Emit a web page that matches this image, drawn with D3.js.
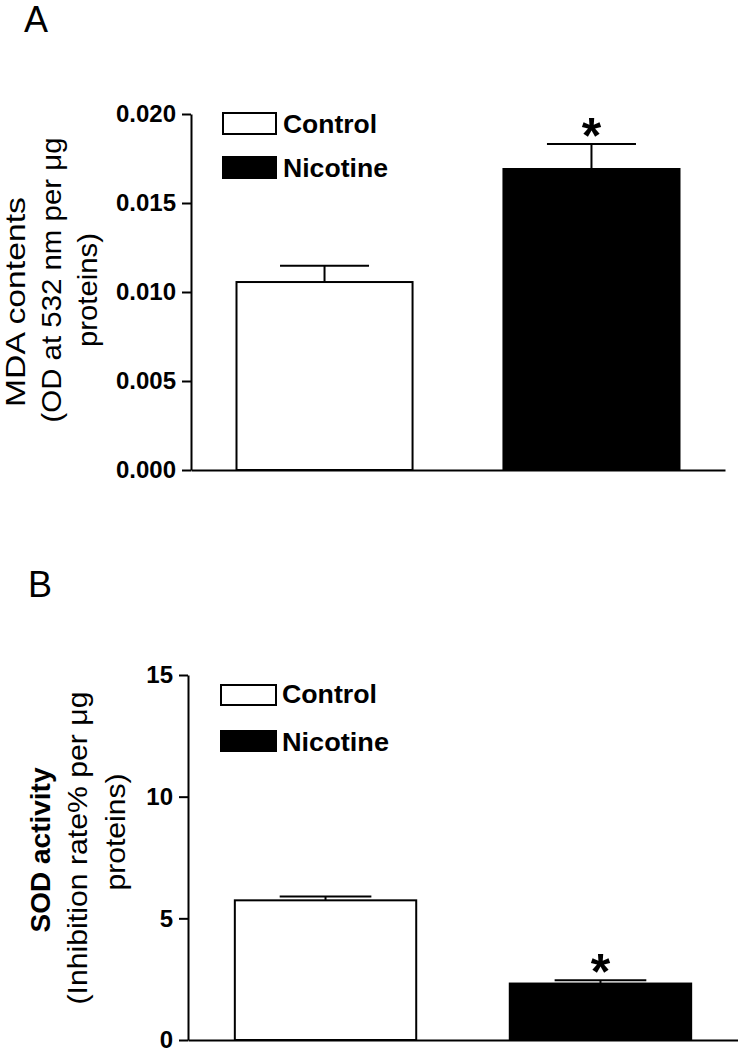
<!DOCTYPE html>
<html><head><meta charset="utf-8">
<script src="https://cdn.jsdelivr.net/npm/d3@7"></script>
<style>
body{margin:0;background:#fff}
svg{display:block}
text{font-family:"Liberation Sans",Arial,Helvetica,sans-serif}
</style>
</head><body><div id="chart"></div>
<script>
// ---- data ----
const categories = ["Control", "Nicotine"];
const mdaMean = [0.01056, 0.01691];
const mdaSem  = [0.00092, 0.00140];
const sodMean = [5.74, 2.32];
const sodSem  = [0.16, 0.14];
const significant = [false, true];
const mdaTicks = [0, 0.005, 0.010, 0.015, 0.020];
const mdaTickLabels = ["0.000", "0.005", "0.010", "0.015", "0.020"];
const sodTicks = [0, 5, 10, 15];
const sodTickLabels = ["0", "5", "10", "15"];
const mdaLabel = ["MDA contents", "(OD at 532 nm per \u03bcg", "proteins)"];
const sodLabel = ["SOD activity", "(Inhibition rate% per \u03bcg", "proteins)"];
const fills = ["#ffffff", "#000000"];

const W = 738, H = 1050;
const svg = d3.select("#chart").append("svg").attr("width", W).attr("height", H);

function panel(opt) {
  const g = svg.append("g");
  const y = d3.scaleLinear().domain(opt.domain).range(opt.yRange);
  const x = d3.scaleBand().domain(categories).range(opt.xRange)
    .paddingInner(0.333).paddingOuter(0.1667);

  // panel letter
  g.append("text").attr("x", opt.letterPos[0]).attr("y", opt.letterPos[1])
    .attr("font-size", 36).text(opt.letter);

  // bars
  g.selectAll("rect.bar").data(categories).join("rect").attr("class", "bar")
    .attr("x", d => x(d) + 1).attr("width", x.bandwidth() - 2)
    .attr("y", (d, i) => y(opt.mean[i]))
    .attr("height", (d, i) => y(0) - y(opt.mean[i]))
    .attr("fill", (d, i) => fills[i]).attr("stroke", "#000").attr("stroke-width", 2);

  // error bars
  const cx = d => x(d) + x.bandwidth() / 2;
  g.selectAll("line.ev").data(categories).join("line").attr("class", "ev")
    .attr("x1", cx).attr("x2", cx)
    .attr("y1", (d, i) => y(opt.mean[i]))
    .attr("y2", (d, i) => y(opt.mean[i] + opt.sem[i]))
    .attr("stroke", "#000").attr("stroke-width", 2);
  g.selectAll("line.ec").data(categories).join("line").attr("class", "ec")
    .attr("x1", d => cx(d) - x.bandwidth() / 4).attr("x2", d => cx(d) + x.bandwidth() / 4)
    .attr("y1", (d, i) => y(opt.mean[i] + opt.sem[i]))
    .attr("y2", (d, i) => y(opt.mean[i] + opt.sem[i]))
    .attr("stroke", "#000").attr("stroke-width", 2);

  // significance asterisks
  g.selectAll("text.sig").data(categories.filter((d, i) => significant[i])).join("text")
    .attr("class", "sig")
    .attr("x", cx)
    .attr("y", d => { const i = categories.indexOf(d); return y(opt.mean[i] + opt.sem[i]) + 9; })
    .attr("text-anchor", "middle").attr("font-size", 50).attr("font-weight", "bold")
    .text("*");

  // y axis
  const ya = g.append("g").attr("transform", `translate(${opt.xRange[0]},0)`)
    .call(d3.axisLeft(y).tickValues(opt.ticks)
      .tickFormat((d, i) => opt.tickLabels[i]).tickSize(9).tickSizeOuter(0).tickPadding(6));
  ya.select(".domain").attr("stroke-width", 2);
  ya.selectAll(".tick line").attr("stroke-width", 2);
  ya.selectAll(".tick text").attr("font-size", 24).attr("font-weight", "bold")
    .attr("fill", "#000").style("font-family", '"Liberation Sans",Arial,sans-serif');

  // x axis (plain baseline)
  const xa = g.append("g").attr("transform", `translate(0,${opt.yRange[0]})`)
    .call(d3.axisBottom(x).tickSize(0).tickSizeOuter(0).tickFormat(""));
  xa.select(".domain").attr("stroke-width", 2);

  // y label (rotated, three lines)
  opt.labelLines.forEach((t, i) => {
    const tx = g.append("text")
      .attr("transform", `translate(${opt.labelX[i]},${opt.labelY[i]}) rotate(-90)`)
      .attr("text-anchor", "middle").attr("font-size", 28)
      .attr("font-weight", opt.labelWeight[i]).text(t);
    if (opt.labelLen[i]) tx.attr("textLength", opt.labelLen[i]).attr("lengthAdjust", "spacingAndGlyphs");
  });

  // legend
  categories.forEach((c, i) => {
    g.append("rect").attr("x", opt.legX).attr("y", opt.legTops[i])
      .attr("width", opt.legW).attr("height", opt.legH)
      .attr("fill", fills[i]).attr("stroke", "#000").attr("stroke-width", 2);
    g.append("text").attr("x", opt.legTextX).attr("y", opt.legBase[i])
      .attr("font-size", 26.5).attr("font-weight", "bold")
      .attr("textLength", opt.legLen[i]).attr("lengthAdjust", "spacingAndGlyphs")
      .text(c);
  });
}

panel({
  letter: "A", letterPos: [24, 32],
  domain: [0, 0.02], yRange: [470, 114], xRange: [191, 725],
  mean: mdaMean, sem: mdaSem, ticks: mdaTicks, tickLabels: mdaTickLabels,
  labelLines: mdaLabel, labelX: [25, 61, 97], labelY: [302, 280, 290],
  labelLen: [210, 285, 114], labelWeight: ["normal", "normal", "normal"],
  legX: 223, legW: 53, legH: 21, legTops: [113, 157], legTextX: 283,
  legBase: [133, 177], legLen: [94, 105]
});

panel({
  letter: "B", letterPos: [28, 597],
  domain: [0, 15], yRange: [1040, 675], xRange: [188, 738],
  mean: sodMean, sem: sodSem, ticks: sodTicks, tickLabels: sodTickLabels,
  labelLines: sodLabel, labelX: [50, 87, 125], labelY: [850, 848, 832],
  labelLen: [null, 313, 117], labelWeight: ["bold", "normal", "normal"],
  legX: 221, legW: 55, legH: 20, legTops: [685, 731], legTextX: 282,
  legBase: [703, 751], legLen: [95, 107]
});
</script>
</body></html>
